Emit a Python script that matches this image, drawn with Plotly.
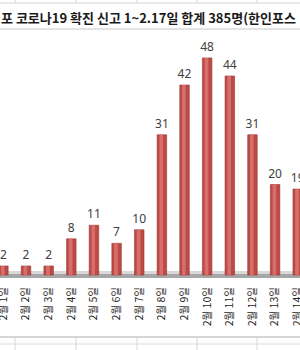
import plotly.graph_objects as go

categories = ["2월 1일", "2월 2일", "2월 3일", "2월 4일", "2월 5일", "2월 6일", "2월 7일",
              "2월 8일", "2월 9일", "2월 10일", "2월 11일", "2월 12일", "2월 13일", "2월 14일"]
values = [2, 2, 2, 8, 11, 7, 10, 31, 42, 48, 44, 31, 20, 19]
title_text = "포 코로나19 확진 신고 1~2.17일 합계 385명(한인포스"

W, H = 300, 350
FONT = "Noto Sans CJK KR"

def py(p):
    return 1 - p / H

x_idx = list(range(len(categories)))

fig = go.Figure()
fig.add_trace(go.Bar(
    x=x_idx, y=values, width=0.42,
    marker=dict(color="#BE4A47", line=dict(color="#953532", width=0.6)),
    text=[str(v) for v in values], textposition="outside", constraintext="none",
    textfont=dict(family="Noto Sans", size=12, color="#404040"),
    cliponaxis=False, hoverinfo="skip",
))
fig.add_trace(go.Bar(
    x=x_idx, y=values, width=0.16, offset=-0.11,
    marker=dict(color="#D66F6B", line=dict(width=0)),
    hoverinfo="skip",
))

shapes = []
# spreadsheet grid lines (outside chart)
for gx in [15, 76, 137, 197, 257]:
    shapes.append(dict(type="line", xref="paper", yref="paper", x0=gx / W, x1=gx / W,
                       y0=py(0), y1=py(3), line=dict(color="#D4D4D4", width=1)))
    shapes.append(dict(type="line", xref="paper", yref="paper", x0=gx / W, x1=gx / W,
                       y0=py(338), y1=py(350), line=dict(color="#D4D4D4", width=1)))
shapes.append(dict(type="line", xref="paper", yref="paper", x0=0, x1=1, y0=py(3), y1=py(3),
                   line=dict(color="#D4D4D4", width=1)))
shapes.append(dict(type="line", xref="paper", yref="paper", x0=0, x1=1, y0=py(29), y1=py(29),
                   line=dict(color="#C8C8C8", width=1)))
shapes.append(dict(type="line", xref="paper", yref="paper", x0=0, x1=1, y0=py(337), y1=py(337),
                   line=dict(color="#C8C8C8", width=1.5)))
shapes.append(dict(type="line", xref="paper", yref="paper", x0=0, x1=1, y0=py(344), y1=py(344),
                   line=dict(color="#DCDCDC", width=1)))
# floor
shapes.append(dict(type="rect", xref="paper", yref="paper", x0=0, x1=1, y0=py(274), y1=py(271),
                   fillcolor="#D9D9D9", line=dict(width=0), layer="below"))
shapes.append(dict(type="rect", xref="paper", yref="paper", x0=0, x1=1, y0=py(278), y1=py(274),
                   fillcolor="#A6A6A6", line=dict(width=0), layer="below"))

fig.update_layout(
    width=W, height=H, margin=dict(l=0, r=0, t=0, b=0, autoexpand=False),
    paper_bgcolor="white", plot_bgcolor="white",
    showlegend=False, barmode="overlay",
    shapes=shapes,
    annotations=[dict(text=title_text, xref="paper", yref="paper", x=-0.003, y=py(17),
                      xanchor="left", yanchor="middle", showarrow=False,
                      font=dict(family=FONT, size=13, color="#1a1a1a", weight="bold"))],
    xaxis=dict(range=[-0.15, 13.1], tickmode="array", tickvals=x_idx, ticktext=categories,
               tickangle=-90, tickfont=dict(family=FONT, size=10.5, color="#262626"),
               showgrid=False, zeroline=False, showline=False, ticks="", automargin=False,
               ticklabelstandoff=6, ticklabeloverflow="allow", domain=[0, 1]),
    yaxis=dict(range=[-0.66, 60.8], domain=[py(278), 1], visible=False, showgrid=False,
               automargin=False),
)

fig.write_html("out.html")
